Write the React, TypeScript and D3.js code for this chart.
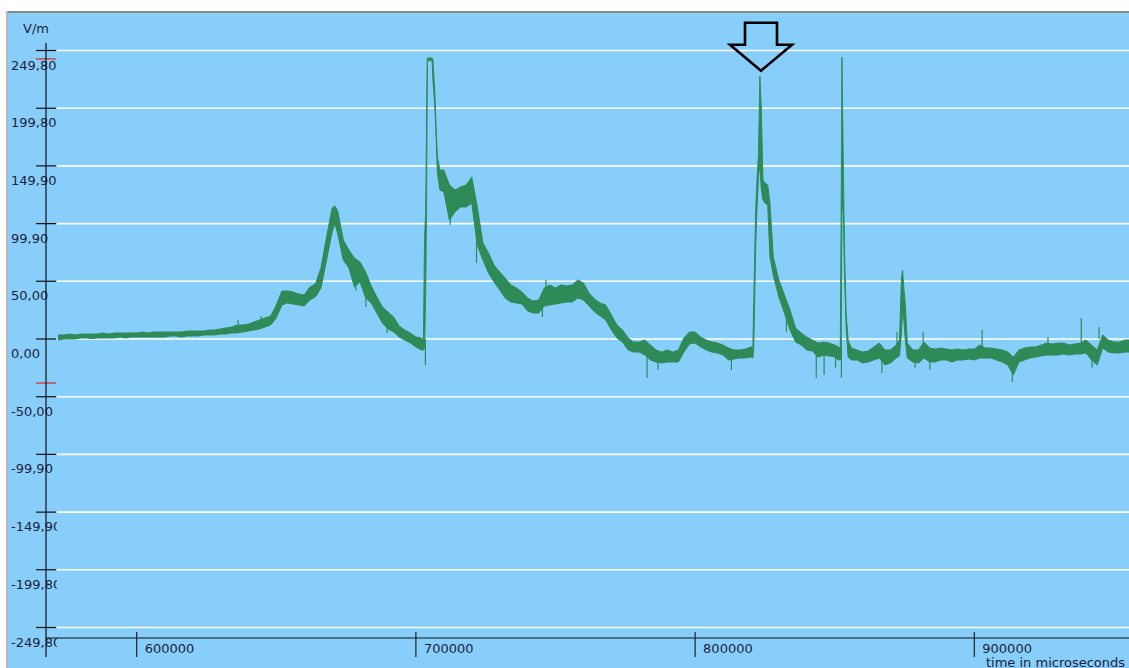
import React from 'react';
import * as d3 from 'd3';

const W = 1129;
const H = 668;

// Y axis tick values (V/m) and X axis ticks (microseconds)
const yTickValues = [249.8, 199.8, 149.9, 99.9, 50.0, 0.0, -50.0, -99.9, -149.9, -199.8, -249.8];
const xTickValues = [600000, 700000, 800000, 900000];
const triggerLevels = [242.5, -38.1];
const yAxisTitle = 'V/m';
const xAxisTitle = 'time in microseconds';

// Field trace: [time µs, low V/m, high V/m] (noise envelope)
const trace: [number, number, number][] = [
  [572000, -0.9, 3.5], [574000, 0, 3.5], [576000, 0, 4.3], [578000, 0, 3.5], [580000, 0.9, 4.3],
  [582000, 0.9, 4.3], [584000, 0.4, 4.3], [586000, 0.9, 4.3], [588000, 0.9, 5.2], [590000, 0.9, 4.3],
  [592000, 0.9, 5.2], [594000, 1.7, 5.2], [596000, 0.9, 5.2], [598000, 1.7, 5.2], [600000, 1.7, 5.2],
  [602000, 1.7, 6.1], [604000, 1.7, 5.2], [606000, 1.7, 6.1], [608000, 1.7, 6.1], [610000, 1.7, 6.1],
  [612000, 2.6, 6.1], [614000, 2.6, 6.1], [616000, 1.7, 6.1], [618000, 2.6, 6.9], [620000, 2.6, 6.9],
  [622000, 2.6, 6.9], [624000, 3.5, 6.9], [626000, 3.5, 7.8], [628000, 3.5, 7.8], [630000, 4.3, 8.7],
  [632000, 4.3, 9.5], [634000, 5.2, 10.4], [636000, 5.2, 12.1], [638000, 6.1, 12.1], [640000, 6.9, 13.0],
  [642000, 7.8, 14.7], [644000, 8.7, 16.5], [646000, 10.4, 18.2], [648000, 12.1, 19.9], [650000, 18.2, 29.4],
  [652000, 29.4, 41.6], [654000, 31.2, 41.6], [656000, 30.3, 40.7], [658000, 29.4, 39.0], [660000, 28.6, 38.1],
  [662000, 33.8, 45.0], [664000, 36.4, 47.6], [666000, 44.2, 61.5], [668000, 68.4, 88.3], [670000, 92.6, 113.4],
  [671000, 100, 115.2], [672000, 90.9, 110.8], [674000, 68.4, 85.7], [676000, 61.5, 77.1], [678000, 45.0, 70.1],
  [680000, 49.4, 66.7], [682000, 35.5, 58.0], [684000, 31.2, 45.9], [686000, 22.5, 36.4], [688000, 13.9, 27.7],
  [690000, 8.7, 23.4], [692000, 6.1, 19.0], [694000, 1.7, 11.3], [696000, -0.9, 7.8], [698000, -3.5, 5.2],
  [700000, -6.9, 1.7], [702000, -9.5, 0.9], [702700, -9.5, -0.9], [703100, -8, 88], [703500, 40, 110],
  [703800, 110, 181], [704100, 241, 243.3], [705800, 241, 243.3], [706100, 224, 241.6], [706800, 200, 213],
  [707200, 178, 184], [707700, 143.7, 157.6], [708600, 129, 146.3], [710000, 127.3, 146.3], [712000, 103, 133.3],
  [714000, 110, 129], [716000, 114.3, 131.6], [718000, 114.3, 133.3], [720000, 117.7, 140.3], [722000, 81.4, 114.3],
  [724000, 68.4, 83.1], [726000, 57.1, 74.5], [728000, 49.4, 64.0], [730000, 42.4, 58.0], [732000, 35.5, 52.8],
  [734000, 32.0, 46.8], [736000, 31.2, 44.2], [738000, 30.3, 40.7], [740000, 24.2, 35.5], [742000, 22.5, 32.9],
  [744000, 22.5, 33.8], [746000, 28.6, 44.2], [748000, 29.4, 46.8], [750000, 30.3, 44.2], [752000, 31.2, 46.8],
  [754000, 32.0, 45.9], [756000, 32.0, 46.8], [758000, 35.5, 51.1], [760000, 33.8, 48.5], [762000, 28.6, 39.8],
  [764000, 23.4, 34.6], [766000, 19.9, 31.2], [768000, 16.5, 29.4], [770000, 7.8, 20.8], [772000, 0.9, 12.1],
  [774000, -2.6, 7.8], [776000, -9.5, 0.9], [778000, -11.3, -2.6], [780000, -11.3, -2.6], [782000, -13.9, -0.9],
  [784000, -18.2, -5.2], [786000, -19.9, -9.5], [788000, -20.8, -11.3], [790000, -19.9, -9.5], [792000, -19.9, -11.3],
  [794000, -19.9, -9.5], [796000, -11.3, 0.9], [798000, -4.3, 6.1], [800000, -3.5, 6.1], [802000, -6.9, 1.7],
  [804000, -9.5, -0.9], [806000, -11.3, -2.6], [808000, -12.1, -3.5], [810000, -13.9, -5.2], [812000, -18.2, -7.8],
  [814000, -17.3, -9.5], [816000, -16.5, -9.5], [818000, -16.5, -8.7], [820000, -15.6, -6.9], [820700, -16.5, -6.9],
  [821000, -8, 31], [821700, 80, 112], [822200, 115, 139], [822700, 140, 160], [823200, 150, 227.7],
  [823700, 130, 200], [824300, 120.3, 137.7], [825000, 117.7, 135.1], [826000, 116, 133.3], [826800, 71, 117.7],
  [828000, 55.4, 71.0], [830000, 36.4, 51.1], [832000, 22.5, 38.1], [834000, 7.8, 25.1], [836000, -2.6, 9.5],
  [838000, -5.2, 5.2], [840000, -9.5, 1.7], [842000, -10.4, -0.9], [844000, -15.6, -3.5], [846000, -13.9, -2.6],
  [848000, -14.7, -3.5], [850000, -15.6, -5.2], [851400, -18.2, -6.9], [852000, -18, -8], [852300, -10, 104],
  [852600, 120, 244], [853100, 109, 149], [853500, 57, 77], [854100, 10, 22.5], [854800, -15.6, -0.9],
  [856000, -18.2, -7.8], [858000, -18.2, -9.5], [860000, -20.8, -11.3], [862000, -19.9, -10.4], [864000, -18.2, -6.9],
  [866000, -16.5, -3.5], [868000, -22.5, -9.5], [870000, -20.8, -9.5], [872000, -16.5, -5.2], [873200, -14.7, -0.9],
  [873900, 5, 52], [874300, 25, 59.7], [874800, 15, 43], [875300, -1, 30], [876000, -16.5, -3.5],
  [878000, -19.9, -9.5], [880000, -20.8, -9.5], [882000, -16.5, -2.6], [884000, -19.9, -7.8], [886000, -19.9, -8.7],
  [888000, -18.2, -7.8], [890000, -18.2, -8.7], [892000, -19.9, -9.5], [894000, -18.2, -8.7], [896000, -18.2, -9.5],
  [898000, -17.3, -8.7], [900000, -18.2, -8.7], [902000, -16.5, -5.2], [904000, -16.5, -7.8], [906000, -16.5, -7.8],
  [908000, -18.2, -8.7], [910000, -19.9, -9.5], [912000, -22.5, -11.3], [914000, -31.2, -15.6], [916000, -19.9, -9.5],
  [918000, -18.2, -7.8], [920000, -16.5, -6.9], [922000, -15.6, -6.9], [924000, -14.7, -5.2], [926000, -13.9, -3.5],
  [928000, -13.9, -4.3], [930000, -13.9, -3.5], [932000, -13.0, -3.5], [934000, -13.9, -5.2], [936000, -13.0, -4.3],
  [938000, -13.0, -3.5], [940000, -12.1, -0.9], [942000, -18.2, -5.2], [944000, -22.5, -9.5], [946000, -7.8, 3.5],
  [948000, -11.3, -0.9], [950000, -12.1, -2.6], [952000, -12.1, -2.6], [954000, -11.3, -0.9], [956000, -11.3, -0.9],
];

// Isolated needle-like excursions: [time µs, from V/m, to V/m]
const needles: [number, number, number][] = [
  [636300, 6, 16.5], [644600, 12, 20], [678500, 42, 60], [682100, 27.7, 40], [689700, 5.2, 12],
  [703400, -22.5, 0], [712300, 98.7, 110], [721700, 65.8, 90], [745300, 19, 30], [746600, 40, 51],
  [782800, -33.8, -10], [786700, -26.8, -10], [813000, -26.8, -10], [832700, 6.3, 25], [843400, -33.8, -8],
  [846200, -31, -5], [850300, -25, -10], [852400, -33.8, 0], [866900, -29.4, -10], [872300, -5, 6],
  [878800, -25, -15], [881700, -5, 6], [884100, -26.8, -15], [902800, -8, 7.8], [913600, -37.2, -18],
  [926400, -5, 1.7], [938300, -5, 18.2], [942200, -25, -10], [944700, 0, 10.4],
];

// Annotation arrow pointing at the peak
const arrowTime = 823600;
const arrowValue = 232.3;

const FONT = '"DejaVu Sans", Verdana, sans-serif';
const TEXT = '#1e1e3c';
const TRACE = '#2e8b57';

export default function App() {
  const x = d3.scaleLinear().domain([600000, 900000]).range([136.7, 974.3]);
  const y = d3.scaleLinear().domain([-249.8, 249.8]).range([627.5, 50.5]);
  const axisX = 46;
  const axisY = 638;

  const area = d3
    .area<[number, number, number]>()
    .x((d) => x(d[0]))
    .y0((d) => y(d[1]))
    .y1((d) => y(d[2]));
  const areaPath = area(trace) || '';

  const fmt = (v: number) => v.toFixed(2).replace('.', ',');

  const ax = x(arrowTime);
  const ay = y(arrowValue);
  const arrowPts: [number, number][] = [
    [ax, ay], [ax - 31, ay - 26], [ax - 16, ay - 26], [ax - 16, ay - 48],
    [ax + 16, ay - 48], [ax + 16, ay - 26], [ax + 31, ay - 26],
  ];
  const arrowPath = (d3.line()(arrowPts) || '') + 'Z';

  return (
    <svg
      width={W}
      height={H}
      style={{ position: 'absolute', left: 0, top: 0, display: 'block' }}
      fontFamily={FONT}
    >
      <defs>
        <clipPath id="ylab">
          <rect x={0} y={0} width={57} height={H} />
        </clipPath>
        <clipPath id="plot">
          <rect x={axisX} y={13} width={W - axisX} height={axisY - 13} />
        </clipPath>
      </defs>
      <rect x={0} y={0} width={W} height={H} fill="#ffffff" />
      <rect x={7} y={12} width={W - 7} height={H - 12} fill="#87cefa" />
      <line x1={7} x2={W} y1={12} y2={12} stroke="#8a8a8a" strokeWidth={2} />
      <line x1={7} x2={7} y1={12} y2={H} stroke="#b8b8b8" strokeWidth={2} />

      {/* horizontal grid */}
      {yTickValues.map((v) => (
        <line key={'g' + v} x1={57} x2={W} y1={y(v)} y2={y(v)} stroke="#ffffff" strokeWidth={1.6} />
      ))}

      {/* trace */}
      <g clipPath="url(#plot)">
        <path d={areaPath} fill={TRACE} stroke={TRACE} strokeWidth={1} strokeLinejoin="round" />
        {needles.map((n, i) => (
          <line key={'n' + i} x1={x(n[0])} x2={x(n[0])} y1={y(n[1])} y2={y(n[2])} stroke={TRACE} strokeWidth={1.2} />
        ))}
      </g>

      {/* y axis */}
      <text x={23} y={33} fontSize={13} fill={TEXT}>{yAxisTitle}</text>
      <g clipPath="url(#ylab)">
        {yTickValues.map((v) => (
          <text key={'yl' + v} x={11} y={y(v) + 19} fontSize={13} fill={TEXT}>{fmt(v)}</text>
        ))}
      </g>
      {yTickValues.map((v) => (
        <line key={'yt' + v} x1={36} x2={56} y1={y(v)} y2={y(v)} stroke="#111" strokeWidth={1.2} />
      ))}
      {triggerLevels.map((v) => (
        <line key={'tr' + v} x1={36} x2={56} y1={y(v)} y2={y(v)} stroke="#d42a2a" strokeWidth={1.2} />
      ))}
      <line x1={axisX} x2={axisX} y1={43} y2={657} stroke="#111" strokeWidth={1.2} />

      {/* x axis */}
      <line x1={axisX} x2={W} y1={axisY} y2={axisY} stroke="#111" strokeWidth={1.2} />
      {xTickValues.map((t) => (
        <g key={'xt' + t}>
          <line x1={x(t)} x2={x(t)} y1={632} y2={657} stroke="#222" strokeWidth={1.2} />
          <text x={x(t) + 8} y={652.5} fontSize={13} fill={TEXT}>{String(t)}</text>
        </g>
      ))}
      <text x={986} y={666.5} fontSize={13} fill={TEXT}>{xAxisTitle}</text>

      {/* annotation arrow */}
      <path d={arrowPath} fill="none" stroke="#000" strokeWidth={2.6} strokeLinejoin="miter" />
    </svg>
  );
}
